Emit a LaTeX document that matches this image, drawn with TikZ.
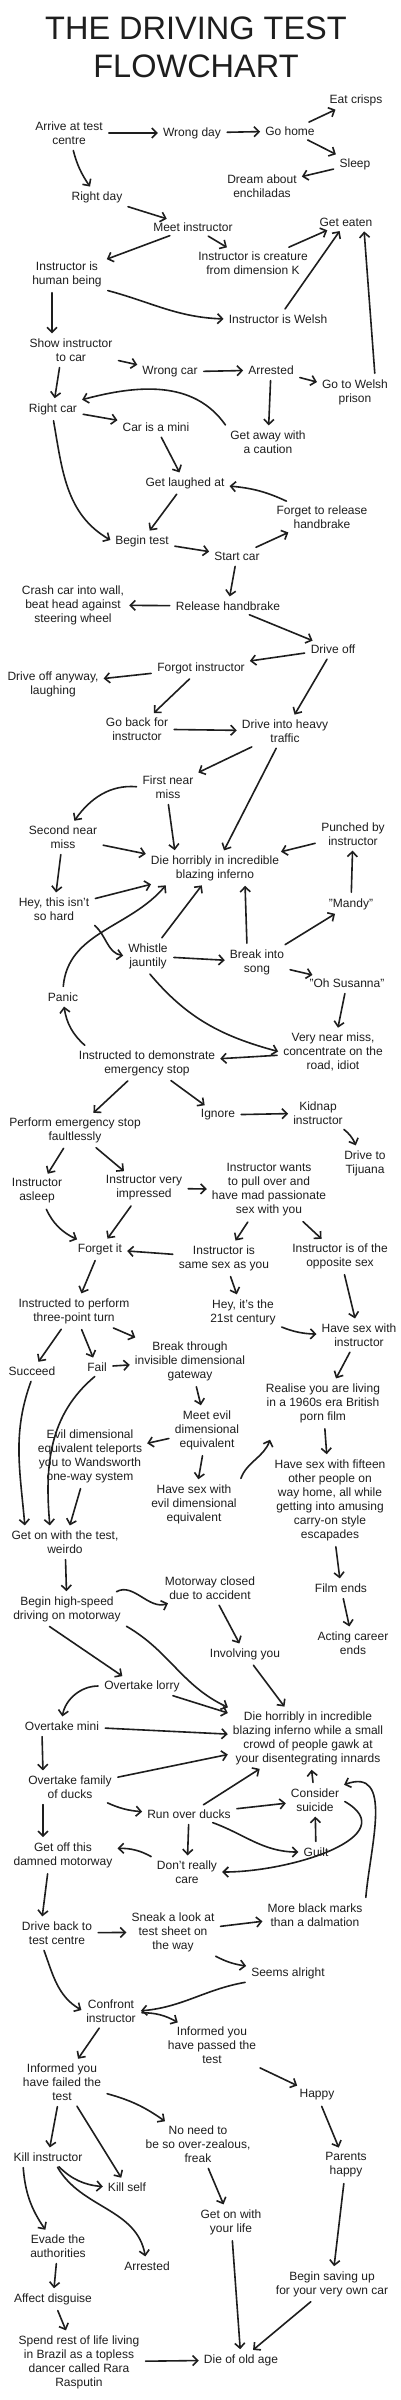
\documentclass[tikz,border=0pt]{standalone}
\usepackage{fontspec}
\setmainfont{Liberation Sans}
\usetikzlibrary{arrows.meta}
\definecolor{ink}{HTML}{1E1E1E}
\begin{document}
\begin{tikzpicture}[x=1pt,y=-1pt,
  box/.style={align=center,font=\fontsize{12}{14}\selectfont,inner sep=3pt,text=ink},
  ttl/.style={anchor=base,font=\fontsize{32.5}{38}\selectfont,text=ink,inner sep=0pt},
  arr/.style={draw=ink,line width=1.6pt,line cap=round,
    -{Straight Barb[length=5pt,width=10pt,line width=1.6pt]},shorten >=2pt,shorten <=3pt}]
\useasboundingbox[fill=white] (0,0) rectangle (400,2400);
% title
\node[ttl] (title1) at (196,40) {THE DRIVING TEST};
\node[ttl] (title2) at (196,78) {FLOWCHART};
% nodes
\node[box] (arrive) at (69,133) {Arrive at test\\centre};
\node[box] (wrongday) at (192,133) {Wrong day};
\node[box] (gohome) at (290,131) {Go home};
\node[box] (eatcrisps) at (356,100) {Eat crisps};
\node[box] (sleep) at (355,164) {Sleep};
\node[box] (dream) at (262,186) {Dream about\\enchiladas};
\node[box] (rightday) at (97,197) {Right day};
\node[box] (meet) at (193,227) {Meet instructor};
\node[box] (geteaten) at (346,222) {Get eaten};
\node[box] (creature) at (253,263) {Instructor is creature\\from dimension K};
\node[box] (human) at (67,274) {Instructor is\\human being};
\node[box] (welsh) at (278,319) {Instructor is Welsh};
\node[box] (show) at (71,350) {Show instructor\\to car};
\node[box] (wrongcar) at (170,372) {Wrong car};
\node[box] (arrested) at (271,370) {Arrested};
\node[box] (prison) at (355,392) {Go to Welsh\\prison};
\node[box] (rightcar) at (53,409) {Right car};
\node[box] (mini) at (156,427) {Car is a mini};
\node[box] (caution) at (268,442) {Get away with\\a caution};
\node[box] (laughed) at (185,483) {Get laughed at};
\node[box] (forget) at (322,517) {Forget to release\\handbrake};
\node[box] (begin) at (142,541) {Begin test};
\node[box] (start) at (237,556) {Start car};
\node[box] (crash) at (73,605) {Crash car into wall,\\beat head against\\steering wheel};
\node[box] (release) at (228,606) {Release handbrake};
\node[box] (driveoff) at (333,649) {Drive off};
\node[box] (forgot) at (201,668) {Forgot instructor};
\node[box] (anyway) at (53,684) {Drive off anyway,\\laughing};
\node[box] (goback) at (137,729) {Go back for\\instructor};
\node[box] (heavy) at (285,731) {Drive into heavy\\traffic};
\node[box] (first) at (168,787) {First near\\miss};
\node[box] (second) at (63,837) {Second near\\miss};
\node[box] (punched) at (353,834) {Punched by\\instructor};
\node[box] (die) at (215,868) {Die horribly in incredible\\blazing inferno};
\node[box] (hey) at (54,909) {Hey, this isn't\\so hard};
\node[box] (mandy) at (351,904) {"Mandy"};
\node[box] (whistle) at (148,956) {Whistle\\jauntily};
\node[box] (song) at (257,962) {Break into\\song};
\node[box] (susanna) at (347,983) {"Oh Susanna"};
\node[box] (panic) at (63,997) {Panic};
\node[box] (verynear) at (333,1052) {Very near miss,\\concentrate on the\\road, idiot};
\node[box] (emerg) at (147,1063) {Instructed to demonstrate\\emergency stop};
\node[box] (ignore) at (218,1115) {Ignore};
\node[box] (kidnap) at (318,1113) {Kidnap\\instructor};
\node[box] (perform) at (75,1130) {Perform emergency stop\\faultlessly};
\node[box] (tijuana) at (365,1163) {Drive to\\Tijuana};
\node[box] (asleep) at (37,1191) {Instructor\\asleep};
\node[box] (impressed) at (144,1188) {Instructor very\\impressed};
\node[box] (wants) at (269,1190) {Instructor wants\\to pull over and\\have mad passionate\\sex with you};
\node[box] (forgetit) at (100,1249) {Forget it};
\node[box] (samesex) at (224,1258) {Instructor is\\same sex as you};
\node[box] (opposite) at (340,1256) {Instructor is of the\\opposite sex};
\node[box] (threept) at (74,1311) {Instructed to perform\\three-point turn};
\node[box] (century) at (243,1312) {Hey, it's the\\21st century};
\node[box] (havesex) at (359,1335) {Have sex with\\instructor};
\node[box] (gateway) at (190,1361) {Break through\\invisible dimensional\\gateway};
\node[box] (succeed) at (32,1371) {Succeed};
\node[box] (fail) at (97,1367) {Fail};
\node[box] (realise) at (323,1403) {Realise you are living\\in a 1960s era British\\porn film};
\node[box] (meetevil) at (207,1430) {Meet evil\\dimensional\\equivalent};
\node[box] (teleport) at (90,1456) {Evil dimensional\\equivalent teleports\\you to Wandsworth\\one-way system};
\node[box] (fifteen) at (330,1500) {Have sex with fifteen\\other people on\\way home, all while\\getting into amusing\\carry-on style\\escapades};
\node[box] (sexevil) at (194,1504) {Have sex with\\evil dimensional\\equivalent};
\node[box] (geton) at (65,1542) {Get on with the test,\\weirdo};
\node[box] (closed) at (210,1588) {Motorway closed\\due to accident};
\node[box] (filmends) at (341,1588) {Film ends};
\node[box] (highspeed) at (67,1609) {Begin high-speed\\driving on motorway};
\node[box] (career) at (353,1643) {Acting career\\ends};
\node[box] (involving) at (245,1654) {Involving you};
\node[box] (lorry) at (142,1686) {Overtake lorry};
\node[box] (die2) at (308,1738) {Die horribly in incredible\\blazing inferno while a small\\crowd of people gawk at\\your disentegrating innards};
\node[box] (omini) at (62,1726) {Overtake mini};
\node[box] (ducks) at (70,1787) {Overtake family\\of ducks};
\node[box] (consider) at (315,1800) {Consider\\suicide};
\node[box] (runover) at (189,1814) {Run over ducks};
\node[box] (getoff) at (63,1855) {Get off this\\damned motorway};
\node[box] (guilt) at (316,1852) {Guilt};
\node[box] (dontcare) at (187,1872) {Don't really\\care};
\node[box] (blackmarks) at (315,1915) {More black marks\\than a dalmation};
\node[box] (driveback) at (57,1933) {Drive back to\\test centre};
\node[box] (sneak) at (173,1932) {Sneak a look at\\test sheet on\\the way};
\node[box] (seems) at (288,1973) {Seems alright};
\node[box] (confront) at (111,2011) {Confront\\instructor};
\node[box] (passed) at (212,2045) {Informed you\\have passed the\\test};
\node[box] (failed) at (62,2082) {Informed you\\have failed the\\test};
\node[box] (happy) at (317,2095) {Happy};
\node[box] (noneed) at (198,2144) {No need to\\be so over-zealous,\\freak};
\node[box] (killinstr) at (48,2157) {Kill instructor};
\node[box] (parents) at (346,2165) {Parents\\happy};
\node[box] (killself) at (127,2187) {Kill self};
\node[box] (getonlife) at (231,2222) {Get on with\\your life};
\node[box] (evade) at (58,2246) {Evade the\\authorities};
\node[box] (arrested2) at (147,2266) {Arrested};
\node[box] (saving) at (332,2284) {Begin saving up\\for your very own car};
\node[box] (disguise) at (53,2299) {Affect disguise};
\node[box] (brazil) at (79,2362) {Spend rest of life living\\in Brazil as a topless\\dancer called Rara\\Rasputin};
\node[box] (oldage) at (241,2360) {Die of old age};
% connectors
\draw[arr] (arrive) -- (wrongday);
\draw[arr] (wrongday) -- (gohome);
\draw[arr] (gohome) -- (eatcrisps);
\draw[arr] (gohome) -- (sleep);
\draw[arr] (sleep) -- (dream);
\draw[arr] (arrive) to[bend right=10] (rightday);
\draw[arr] (rightday) -- (meet);
\draw[arr] (meet) -- (human);
\draw[arr] (meet) -- (creature);
\draw[arr] (creature) -- (geteaten);
\draw[arr] (welsh) -- (geteaten);
\draw[arr] ([xshift=20pt]prison.north) -- ([xshift=18pt]geteaten.south);
\draw[arr] (human.south east) to[out=-15,in=178] (welsh.west);
\draw[arr] ([xshift=-15pt]human.south) -- ([xshift=-19pt]show.north);
\draw[arr] (show) -- (wrongcar);
\draw[arr] (wrongcar) -- (arrested);
\draw[arr] (arrested) -- (prison);
\draw[arr] ([xshift=-11pt]show.south) -- (rightcar);
\draw[arr] (arrested) -- (caution);
\draw[arr] (caution.north west) to[out=125,in=15] (rightcar.north east);
\draw[arr] (rightcar) -- (mini);
\draw[arr] (mini) -- (laughed);
\draw[arr] (laughed) -- (begin);
\draw[arr] (rightcar.south) to[out=-80,in=150] (begin.west);
\draw[arr] (begin) -- (start);
\draw[arr] (start) -- (forget);
\draw[arr] (forget) to[bend right=10] (laughed);
\draw[arr] (start) -- (release);
\draw[arr] (release) -- (crash);
\draw[arr] (release) -- (driveoff);
\draw[arr] (driveoff) -- (forgot);
\draw[arr] (forgot) -- (anyway);
\draw[arr] (forgot) -- (goback);
\draw[arr] (goback) -- (heavy);
\draw[arr] (driveoff) -- (heavy);
\draw[arr] (heavy) -- (first);
\draw[arr] (heavy) -- (die);
\draw[arr] (first.west) to[out=175,in=55] (second);
\draw[arr] (first.south) -- ([xshift=-40pt]die.north);
\draw[arr] (second) -- (die);
\draw[arr] (second) -- (hey);
\draw[arr] (hey) -- (die);
\draw[arr] (panic.north) to[out=85,in=-130] ([xshift=-48pt]die.south);
\draw[arr] (hey.south east) to[out=-40,in=170] (whistle.west);
\draw[arr] (whistle) -- (die);
\draw[arr] (whistle) -- (song);
\draw[arr] ([xshift=-10pt]song.north) -- ([xshift=30pt]die.south);
\draw[arr] (song) -- (mandy);
\draw[arr] (mandy) -- (punched);
\draw[arr] (punched) -- (die);
\draw[arr] (song) -- (susanna);
\draw[arr] (susanna) -- (verynear);
\draw[arr] (whistle.south) to[out=-50,in=165] (verynear.west);
\draw[arr] (verynear) -- (emerg);
\draw[arr] ([xshift=-60pt]emerg.north) to[bend left=20] (panic);
\draw[arr] (emerg) -- (perform);
\draw[arr] (emerg) -- (ignore);
\draw[arr] (ignore) -- (kidnap);
\draw[arr] (kidnap) to[bend left=15] (tijuana);
\draw[arr] (perform) -- (asleep);
\draw[arr] (perform) -- (impressed);
\draw[arr] (impressed) -- (wants);
\draw[arr] (asleep) to[bend right=20] (forgetit);
\draw[arr] (impressed) -- (forgetit);
\draw[arr] (samesex) -- (forgetit);
\draw[arr] (wants) -- (samesex);
\draw[arr] (wants) -- (opposite);
\draw[arr] (samesex) -- (century);
\draw[arr] (opposite) -- (havesex);
\draw[arr] (century) to[bend right=10] (havesex);
\draw[arr] (forgetit) -- (threept);
\draw[arr] (threept) -- (succeed);
\draw[arr] (threept) -- (fail);
\draw[arr] (threept) -- (gateway);
\draw[arr] (fail) -- (gateway);
\draw[arr] (havesex) -- (realise);
\draw[arr] (succeed.south) to[out=-110,in=95] ([xshift=-40pt]geton.north);
\draw[arr] (fail.south) to[out=-140,in=95] ([xshift=-15pt]geton.north);
\draw[arr] (gateway) -- (meetevil);
\draw[arr] (meetevil) -- (teleport);
\draw[arr] (meetevil) -- (sexevil);
\draw[arr] (sexevil.north east) to[out=70,in=-110] ([xshift=8pt,yshift=-12pt]realise.south west);
\draw[arr] (realise) -- (fifteen);
\draw[arr] (fifteen) -- (filmends);
\draw[arr] (filmends) -- (career);
\draw[arr] (teleport) -- (geton);
\draw[arr] (geton) -- (highspeed);
\draw[arr] ([xshift=-10pt]highspeed.north east) to[out=30,in=200] (closed);
\draw[arr] (closed) -- (involving);
\draw[arr] (involving) -- (die2);
\draw[arr] ([xshift=-20pt]highspeed.south) -- ([xshift=-18pt]lorry.north);
\draw[arr] (highspeed.south east) to[out=-30,in=155] (die2.north west);
\draw[arr] (lorry.west) to[out=180,in=80] (omini.north);
\draw[arr] (lorry) -- (die2);
\draw[arr] (omini) -- (die2);
\draw[arr] ([xshift=-20pt]omini.south) -- ([xshift=-27pt]ducks.north);
\draw[arr] (ducks) -- (die2);
\draw[arr] (runover) -- (die2);
\draw[arr] (consider) -- (die2);
\draw[arr] (ducks) to[bend right=10] (runover);
\draw[arr] (runover) -- (consider);
\draw[arr] (runover) to[out=-20,in=180] (guilt);
\draw[arr] (guilt) -- (consider);
\draw[arr] (runover) -- (dontcare);
\draw[arr] (dontcare) to[bend right=15] (getoff);
\draw[arr] (consider.east) to[out=-30,in=0,looseness=1.3] (dontcare.east);
\draw[arr] (blackmarks.north east) to[out=85,in=20,looseness=1.2] (consider.north east);
\draw[arr] ([xshift=-27pt]ducks.south) -- ([xshift=-20pt]getoff.north);
\draw[arr] ([xshift=-15pt]getoff.south) -- ([xshift=-15pt]driveback.north);
\draw[arr] (driveback) -- (sneak);
\draw[arr] (sneak) -- (blackmarks);
\draw[arr] (sneak) to[bend right=10] (seems);
\draw[arr] ([xshift=-14pt]driveback.south) to[out=-70,in=150] (confront.west);
\draw[arr] (seems.south west) to[out=190,in=5] (confront.east);
\draw[arr] (confront) to[bend left=15] (passed);
\draw[arr] (confront) -- (failed);
\draw[arr] (passed) -- (happy);
\draw[arr] (happy) -- (parents);
\draw[arr] (failed) to[bend left=10] (noneed);
\draw[arr] (failed) -- (killinstr);
\draw[arr] (failed) -- (killself);
\draw[arr] (killinstr) to[bend right=20] (killself);
\draw[arr] ([xshift=-25pt]killinstr.south) to[bend right=15] (evade);
\draw[arr] ([xshift=8pt]killinstr.south) to[out=-60,in=100] (arrested2);
\draw[arr] (noneed) -- (getonlife);
\draw[arr] (parents) -- (saving);
\draw[arr] (evade) -- (disguise);
\draw[arr] (disguise) -- (brazil);
\draw[arr] (brazil) -- (oldage);
\draw[arr] (getonlife) -- (oldage);
\draw[arr] (saving) -- (oldage);
\end{tikzpicture}
\end{document}
